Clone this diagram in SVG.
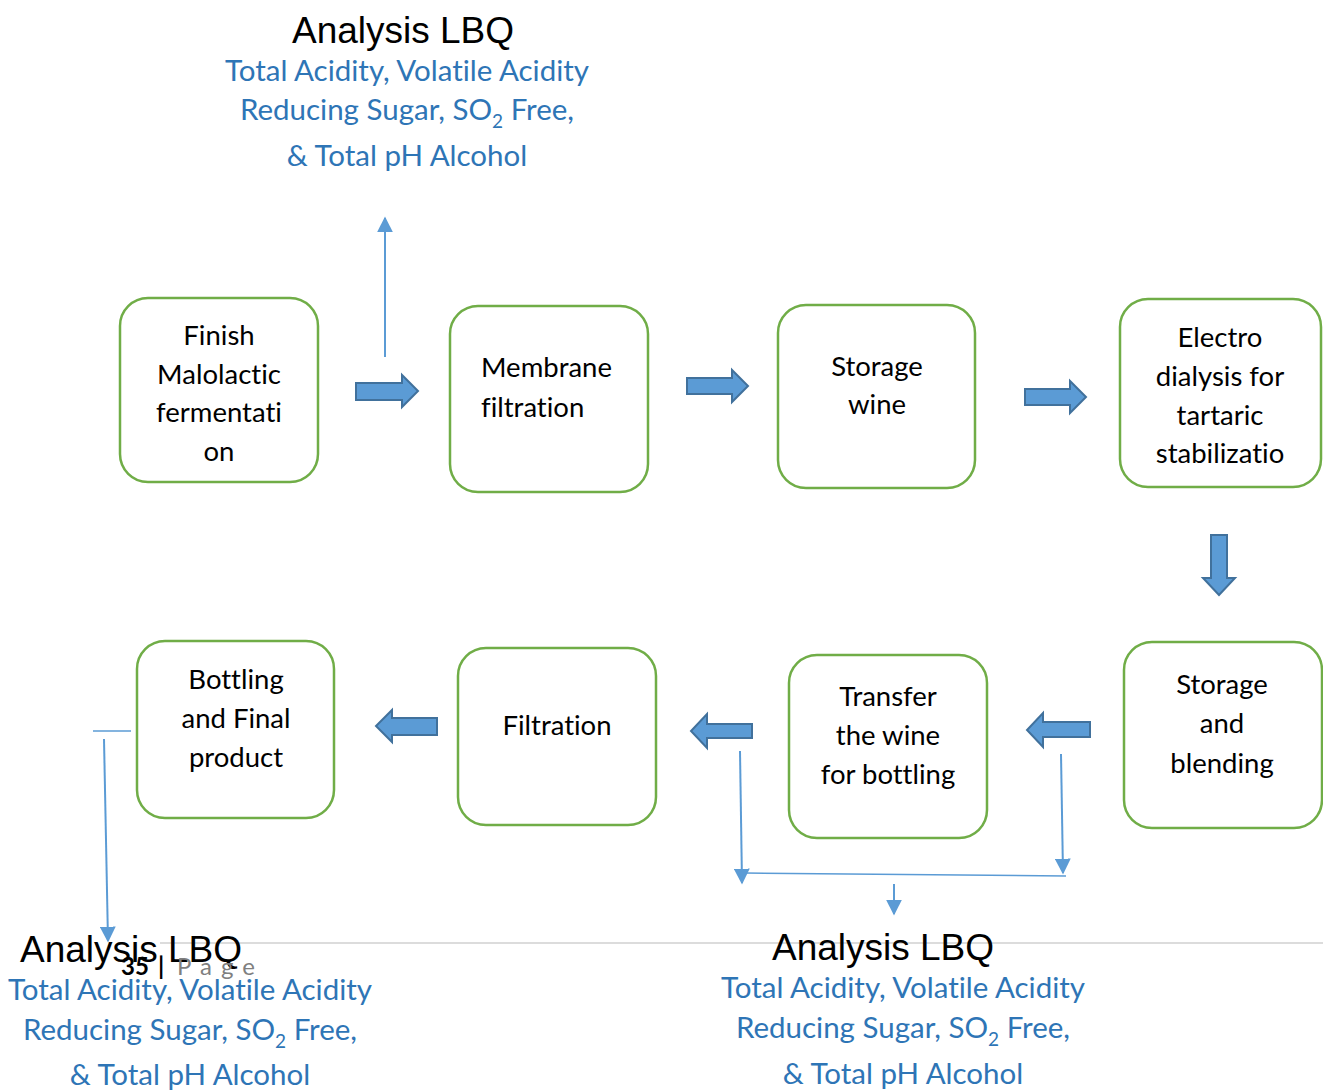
<svg xmlns="http://www.w3.org/2000/svg" width="1323" height="1090" viewBox="0 0 1323 1090">
<defs>
<style>
text{font-variant-ligatures:none;font-feature-settings:"liga" 0}
.box{fill:#fff;stroke:#70AD47;stroke-width:2.5}
.bt{font-family:Lato,"Liberation Sans",sans-serif;font-size:27.5px;fill:#000;text-anchor:middle}
.blk{fill:#5B9BD5;stroke:#41719C;stroke-width:2}
.thin{stroke:#5B9BD5;stroke-width:2;fill:none}
.h{font-family:"Liberation Sans",Arial,sans-serif;font-size:37px;fill:#000;text-anchor:middle}
.b{font-family:Lato,"Liberation Sans",sans-serif;font-size:29.5px;fill:#2E75B6;text-anchor:middle}
.sub{font-size:19px}
</style>
<marker id="ah2" viewBox="0 0 10 10" refX="9" refY="5" markerWidth="16" markerHeight="16" markerUnits="userSpaceOnUse" orient="auto">
<path d="M0,0 L10,5 L0,10 z" fill="#5B9BD5"/>
</marker>
</defs>
<rect width="1323" height="1090" fill="#fff"/>
<line x1="160" y1="943" x2="1323" y2="943" stroke="#D0D0D0" stroke-width="1.5"/>

<g id="n1"><rect class="box" x="120" y="298" width="198" height="184" rx="28"/>
<text class="bt" x="219" y="345">Finish</text><text class="bt" x="219" y="384">Malolactic</text><text class="bt" x="219" y="422">fermentati</text><text class="bt" x="219" y="461">on</text></g>
<g id="n2"><rect class="box" x="450" y="306" width="198" height="186" rx="28"/>
<text class="bt" x="481" y="377" style="text-anchor:start">Membrane</text><text class="bt" x="481" y="417" style="text-anchor:start">filtration</text></g>
<g id="n3"><rect class="box" x="778" y="305" width="197" height="183" rx="28"/>
<text class="bt" x="877" y="376">Storage</text><text class="bt" x="877" y="414">wine</text></g>
<g id="n4"><rect class="box" x="1120" y="299" width="201" height="188" rx="28"/>
<text class="bt" x="1220" y="347">Electro</text><text class="bt" x="1220" y="386">dialysis for</text><text class="bt" x="1220" y="425">tartaric</text><text class="bt" x="1220" y="463">stabilizatio</text></g>
<g id="n5"><rect class="box" x="1124" y="642" width="198" height="186" rx="28"/>
<text class="bt" x="1222" y="694">Storage</text><text class="bt" x="1222" y="733">and</text><text class="bt" x="1222" y="773">blending</text></g>
<g id="n6"><rect class="box" x="789" y="655" width="198" height="183" rx="28"/>
<text class="bt" x="888" y="706">Transfer</text><text class="bt" x="888" y="745">the wine</text><text class="bt" x="888" y="784">for bottling</text></g>
<g id="n7"><rect class="box" x="458" y="648" width="198" height="177" rx="28"/>
<text class="bt" x="557" y="735">Filtration</text></g>
<g id="n8"><rect class="box" x="137" y="641" width="197" height="177" rx="28"/>
<text class="bt" x="236" y="689">Bottling</text><text class="bt" x="236" y="728">and Final</text><text class="bt" x="236" y="767">product</text></g>

<g id="connectors">
<polygon class="blk" points="356,383 402,383 402,375 418,391 402,407 402,400 356,400"/>
<polygon class="blk" points="687,378 732,378 732,370 748,386 732,402 732,394 687,394"/>
<polygon class="blk" points="1025,389 1070,389 1070,381 1086,397 1070,413 1070,405 1025,405"/>
<polygon class="blk" points="1211,535 1227,535 1227,578 1235,578 1219,595 1203,578 1211,578"/>
<polygon class="blk" points="437,718 392,718 392,710 376,726 392,742 392,735 437,735"/>
<polygon class="blk" points="752,724 707,724 707,714 691,731 707,748 707,738 752,738"/>
<polygon class="blk" points="1090,722 1043,722 1043,713 1027,730 1043,747 1043,737 1090,737"/>
<line class="thin" x1="385" y1="357" x2="385" y2="218" marker-end="url(#ah2)"/>
<line class="thin" x1="93" y1="731" x2="131" y2="731" style="stroke-width:1.5"/>
<line class="thin" x1="104" y1="739" x2="108" y2="941" marker-end="url(#ah2)"/>
<line class="thin" x1="740" y1="751" x2="742" y2="883" marker-end="url(#ah2)"/>
<line class="thin" x1="1061" y1="754" x2="1063" y2="873" marker-end="url(#ah2)"/>
<line class="thin" x1="745" y1="873" x2="1066" y2="876" style="stroke-width:1.5"/>
<line class="thin" x1="894" y1="884" x2="894" y2="914" marker-end="url(#ah2)"/>
</g>

<g id="analysis-top">
<text class="h" x="403" y="43">Analysis LBQ</text>
<text class="b" x="407" y="81">Total Acidity, Volatile Acidity</text>
<text class="b" x="407" y="120">Reducing Sugar, SO<tspan class="sub" dy="8">2</tspan><tspan dy="-8"> Free,</tspan></text>
<text class="b" x="407" y="166">&amp; Total pH Alcohol</text>
</g>
<g id="analysis-left">
<text class="h" x="131" y="962">Analysis LBQ</text>
<text class="b" x="190" y="1000">Total Acidity, Volatile Acidity</text>
<text class="b" x="190" y="1040">Reducing Sugar, SO<tspan class="sub" dy="8">2</tspan><tspan dy="-8"> Free,</tspan></text>
<text class="b" x="190" y="1085">&amp; Total pH Alcohol</text>
</g>
<g id="analysis-right">
<text class="h" x="883" y="960">Analysis LBQ</text>
<text class="b" x="903" y="998">Total Acidity, Volatile Acidity</text>
<text class="b" x="903" y="1038">Reducing Sugar, SO<tspan class="sub" dy="8">2</tspan><tspan dy="-8"> Free,</tspan></text>
<text class="b" x="903" y="1084">&amp; Total pH Alcohol</text>
</g>
<g id="footer">
<text y="975" font-family="Lato,'Liberation Sans',sans-serif" font-size="24" font-weight="bold" fill="#000"><tspan x="121">35</tspan><tspan x="158">|</tspan><tspan x="177" font-weight="normal" fill="#7F7F7F" letter-spacing="9">Page</tspan></text>
</g>
</svg>
